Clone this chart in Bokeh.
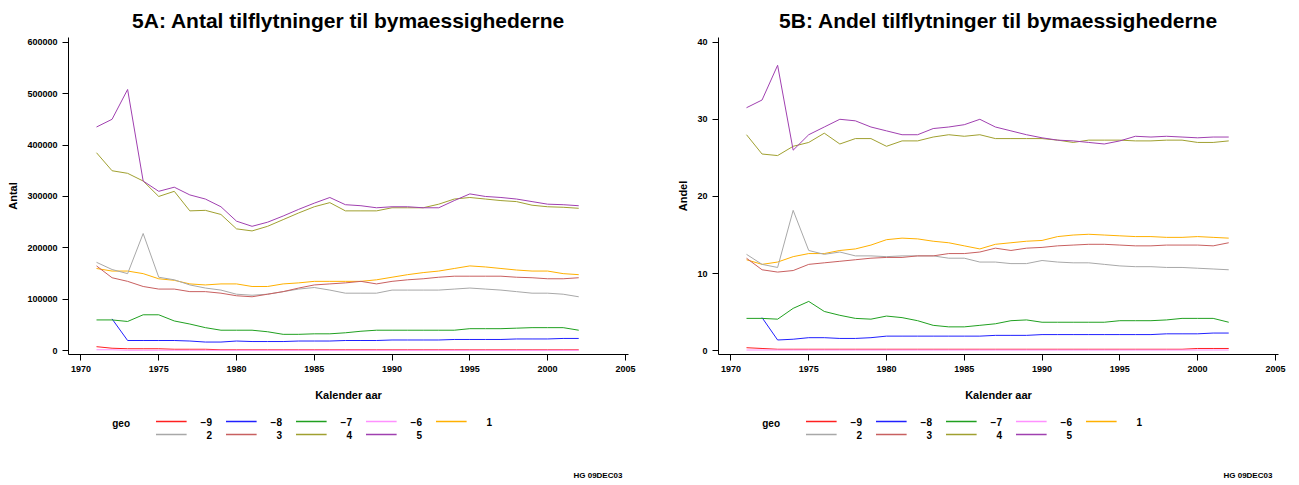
from bokeh.embed import file_html
from bokeh.layouts import row, column
from bokeh.models import Range1d, Label, NumeralTickFormatter
from bokeh.plotting import figure
from bokeh.resources import INLINE

nan = float("nan")
years = list(range(1971, 2003))
geo = ["-9", "-8", "-7", "-6", "1", "2", "3", "4", "5"]
colors = ["#ff2020", "#2020ff", "#20a020", "#ff90ff", "#ffb000",
          "#a8a8a8", "#c86060", "#a0a030", "#a040b0"]

antal = {
    "5": [435, 450, 508, 330, 310, 318, 303, 295, 280, 252, 242, 250, 262, 275, 287, 298,
          284, 282, 278, 280, 280, 278, 278, 292, 305, 300, 298, 295, 290, 285, 284, 282],
    "4": [385, 350, 345, 330, 300, 310, 272, 273, 265, 237, 233, 242, 255, 268, 280, 288,
          272, 272, 272, 278, 278, 278, 285, 295, 298, 295, 292, 290, 283, 280, 279, 277],
    "2": [172, 158, 150, 228, 143, 138, 128, 122, 118, 110, 108, 110, 115, 120, 123, 118,
          112, 112, 112, 118, 118, 118, 118, 120, 122, 120, 118, 115, 112, 112, 110, 105],
    "1": [160, 155, 155, 150, 140, 137, 130, 128, 130, 130, 125, 125, 130, 132, 135, 135,
          135, 135, 138, 143, 148, 152, 155, 160, 165, 163, 160, 157, 155, 155, 150, 148],
    "3": [165, 142, 135, 125, 120, 120, 115, 115, 112, 107, 105, 110, 115, 122, 128, 130,
          132, 135, 130, 135, 138, 140, 143, 145, 145, 145, 145, 143, 142, 140, 140, 142],
    "-7": [60, 60, 57, 70, 70, 58, 52, 45, 40, 40, 40, 37, 32, 32, 33, 33,
           35, 38, 40, 40, 40, 40, 40, 40, 43, 43, 43, 44, 45, 45, 45, 40],
    "-8": [nan, 62, 20, 20, 20, 20, 19, 17, 17, 19, 18, 18, 18, 19, 19, 19,
           20, 20, 20, 21, 21, 21, 21, 22, 22, 22, 22, 23, 23, 23, 24, 24],
    "-9": [8, 5, 4, 4, 4, 3, 3, 3, 2, 2, 2, 2, 2, 2, 2, 2,
           2, 2, 2, 2, 2, 2, 2, 2, 2, 2, 2, 2, 2, 2, 2, 2],
    "-6": [2, 2, 1, 1, 1, 1, 1, 1, 1, 1, 1, 1, 1, 1, 1, 1,
           1, 1, 1, 1, 1, 1, 1, 1, 1, 1, 1, 1, 1, 1, 1, 1],
}
antal = {k: [v * 1000 for v in vals] for k, vals in antal.items()}

andel = {
    "5": [31.5, 32.5, 37, 26, 28, 29, 30, 29.8, 29, 28.5, 28, 28, 28.8, 29, 29.3, 30,
          29, 28.5, 28, 27.6, 27.3, 27.2, 27, 26.8, 27.2, 27.8, 27.7, 27.8, 27.7, 27.6, 27.7, 27.7],
    "4": [28, 25.5, 25.3, 26.5, 27, 28.2, 26.8, 27.5, 27.5, 26.5, 27.2, 27.2, 27.7, 28, 27.8, 28,
          27.5, 27.5, 27.5, 27.5, 27.3, 27, 27.3, 27.3, 27.3, 27.2, 27.2, 27.3, 27.3, 27, 27, 27.2],
    "2": [12.5, 11.2, 10.8, 18.2, 13, 12.5, 12.8, 12.3, 12.3, 12.2, 12.3, 12.3, 12.3, 12, 12, 11.5,
          11.5, 11.3, 11.3, 11.7, 11.5, 11.4, 11.4, 11.2, 11, 10.9, 10.9, 10.8, 10.8, 10.7, 10.6, 10.5],
    "1": [11.8, 11.2, 11.5, 12.2, 12.6, 12.6, 13, 13.2, 13.7, 14.4, 14.6, 14.5, 14.2, 14, 13.6, 13.2,
          13.8, 14, 14.2, 14.3, 14.8, 15, 15.1, 15, 14.9, 14.8, 14.8, 14.7, 14.7, 14.8, 14.7, 14.6],
    "3": [12, 10.5, 10.2, 10.4, 11.2, 11.4, 11.6, 11.8, 12, 12.1, 12.1, 12.3, 12.3, 12.6, 12.6, 12.8,
          13.3, 13, 13.3, 13.4, 13.6, 13.7, 13.8, 13.8, 13.7, 13.6, 13.6, 13.7, 13.7, 13.7, 13.6, 14],
    "-7": [4.2, 4.2, 4.1, 5.5, 6.4, 5.1, 4.6, 4.2, 4.1, 4.5, 4.3, 3.9, 3.3, 3.1, 3.1, 3.3,
           3.5, 3.9, 4, 3.7, 3.7, 3.7, 3.7, 3.7, 3.9, 3.9, 3.9, 4, 4.2, 4.2, 4.2, 3.7],
    "-8": [nan, 4.3, 1.4, 1.5, 1.7, 1.7, 1.6, 1.6, 1.7, 1.9, 1.9, 1.9, 1.9, 1.9, 1.9, 1.9,
           2, 2, 2, 2.1, 2.1, 2.1, 2.1, 2.1, 2.1, 2.1, 2.1, 2.2, 2.2, 2.2, 2.3, 2.3],
    "-9": [0.4, 0.3, 0.2, 0.2, 0.2, 0.2, 0.2, 0.2, 0.2, 0.2, 0.2, 0.2, 0.2, 0.2, 0.2, 0.2,
           0.2, 0.2, 0.2, 0.2, 0.2, 0.2, 0.2, 0.2, 0.2, 0.2, 0.2, 0.2, 0.2, 0.3, 0.3, 0.3],
    "-6": [0.1] * 32,
}

FONT = "Liberation Sans"


def make(title, ylabel, data, ymax, ystep):
    p = figure(width=640, height=403, output_backend="svg", toolbar_location=None,
               x_range=Range1d(1969.2, 2005.2), y_range=Range1d(-ymax * 0.012, ymax * 1.015),
               min_border_left=68, min_border_right=12, min_border_top=5, min_border_bottom=5)
    p.outline_line_color = None
    p.grid.visible = False
    p.title.text = title
    p.title.align = "center"
    p.title.text_font = FONT
    p.title.text_font_size = "21px"
    p.title.text_font_style = "bold"
    p.title.text_color = "black"
    p.title.standoff = 12
    p.xaxis.ticker = list(range(1970, 2006, 5))
    p.yaxis.ticker = list(range(0, int(ymax) + 1, ystep))
    p.yaxis.formatter = NumeralTickFormatter(format="0")
    for ax in (p.xaxis, p.yaxis):
        ax.major_label_text_font = FONT
        ax.major_label_text_font_size = "9px"
        ax.major_label_text_font_style = "bold"
        ax.major_label_text_color = "black"
        ax.axis_label_text_font = FONT
        ax.axis_label_text_font_size = "11px"
        ax.axis_label_text_font_style = "bold"
        ax.axis_label_text_color = "black"
        ax.axis_line_color = "black"
        ax.major_tick_line_color = "black"
        ax.minor_tick_line_color = "black"
        ax.major_tick_in = 0
        ax.minor_tick_in = 0
        ax.major_tick_out = 6
        ax.minor_tick_out = 3
    p.xaxis.axis_label = "Kalender aar"
    p.xaxis.axis_label_standoff = 14
    p.yaxis.axis_label = ylabel
    for g, c in zip(geo, colors):
        p.line(years, data[g], line_color=c, line_width=1)

    # legend panel drawn in screen-like units
    lf = figure(width=640, height=76, output_backend="svg", toolbar_location=None,
                x_range=Range1d(0, 640), y_range=Range1d(0, 76), min_border=0)
    lf.axis.visible = False
    lf.grid.visible = False
    lf.outline_line_color = None
    xs, ys, tx, ty, labels = [], [], [], [], []
    for i, g in enumerate(geo):
        x0 = 100 + (i % 5) * 80
        y0 = 58 - (i // 5) * 13
        xs.append([x0, x0 + 35])
        ys.append([y0, y0])
        tx.append(x0 + 64)
        ty.append(y0)
        labels.append(g.replace("-", "\u2212"))
    lf.multi_line(xs, ys, line_color=colors, line_width=1.5)
    lf.text(tx, ty, text=labels, text_align="right", text_baseline="middle",
            text_color="black",
            text_font={"value": FONT}, text_font_size="10px", text_font_style="bold")
    lf.add_layout(Label(x=50, y=56, text="geo", text_baseline="middle", text_color="black",
                        text_font=FONT, text_font_size="10px", text_font_style="bold"))
    lf.add_layout(Label(x=633, y=0, text="HG 09DEC03", text_align="right", text_color="black",
                        text_font=FONT, text_font_size="8px", text_font_style="bold"))
    return column(p, lf, spacing=0)


pa = make("5A: Antal tilflytninger til bymaessighederne", "Antal", antal, 600000, 100000)
pb = make("5B: Andel tilflytninger til bymaessighederne", "Andel", andel, 40, 10)
p = row(pa, pb, spacing=10)

open("out.html", "w").write(file_html(p, INLINE))
